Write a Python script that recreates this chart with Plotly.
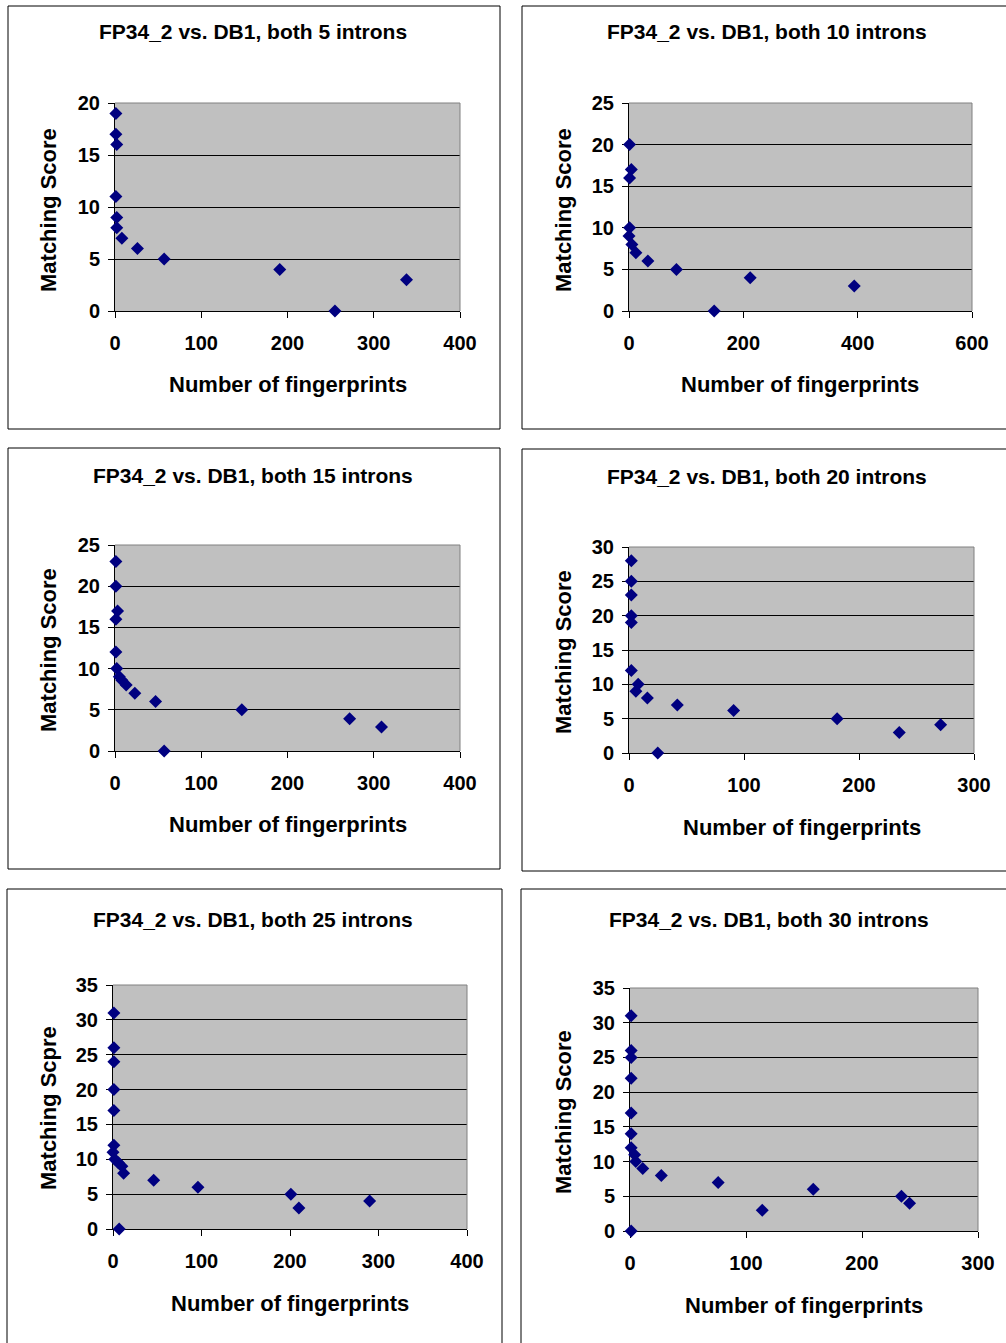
import plotly.graph_objects as go

W, H = 1006, 1343

# ---------------- data ----------------
titles = [
    "FP34_2 vs. DB1, both 5 introns",
    "FP34_2 vs. DB1, both 10 introns",
    "FP34_2 vs. DB1, both 15 introns",
    "FP34_2 vs. DB1, both 20 introns",
    "FP34_2 vs. DB1, both 25 introns",
    "FP34_2 vs. DB1, both 30 introns",
]
x_titles = ["Number of fingerprints"] * 6
y_titles = ["Matching Score", "Matching Score", "Matching Score",
            "Matching Score", "Matching Scpre", "Matching Score"]

fp5_x = [1, 1, 2, 1, 2, 2, 8, 26, 57, 191, 255, 338]
fp5_y = [19, 17, 16, 11, 9, 8, 7, 6, 5, 4, 0, 3]

fp10_x = [1, 4, 1, 1, 0, 5, 12, 33, 83, 149, 212, 394]
fp10_y = [20, 17, 16, 10, 9, 8, 7, 6, 5, 0, 4, 3]

fp15_x = [1, 1, 3, 1, 1, 2, 5, 8, 13, 23, 47, 57, 147, 272, 309]
fp15_y = [23, 20, 17, 16, 12, 10, 9, 8.6, 8, 7, 6, 0, 5, 3.9, 2.9]

fp20_x = [2, 2, 2, 2, 2, 2, 8, 6, 16, 42, 25, 91, 181, 235, 271]
fp20_y = [28, 25, 23, 20, 19, 12, 10, 9, 8, 7, 0, 6.2, 5, 3, 4.1]

fp25_x = [1, 1, 1, 1, 1, 1, 0, 2, 6, 10, 12, 46, 96, 201, 210, 290, 7]
fp25_y = [31, 26, 24, 20, 17, 12, 11, 10, 9.5, 9, 8, 7, 6, 5, 3, 4, 0]

fp30_x = [1, 1, 1, 1, 1, 1, 1, 4, 5, 11, 27, 76, 114, 158, 234, 241, 1]
fp30_y = [31, 26, 25, 22, 17, 14, 12, 11, 10, 9, 8, 7, 3, 6, 5, 4, 0]

xs = [fp5_x, fp10_x, fp15_x, fp20_x, fp25_x, fp30_x]
ys = [fp5_y, fp10_y, fp15_y, fp20_y, fp25_y, fp30_y]

x_max = [400, 600, 400, 300, 400, 300]
x_dtick = [100, 200, 100, 100, 100, 100]
y_max = [20, 25, 25, 30, 35, 35]
y_dtick = [5, 5, 5, 5, 5, 5]

# ---------------- layout geometry (pixels) ----------------
plot_boxes = [  # x0, x1, y0(top), y1(bottom)
    (115, 460, 103, 311),
    (629, 972, 103, 311),
    (115, 460, 545, 751),
    (629, 974, 547, 753),
    (113, 467, 985, 1229),
    (630, 978, 988, 1231),
]
frame_boxes = [
    (8, 500, 6, 429),
    (522, 1012, 6, 429),
    (8, 500, 448, 869),
    (522, 1012, 449, 871),
    (7, 502, 889, 1350),
    (521, 1012, 889, 1350),
]
title_pos = [(253, 32), (767, 32), (253, 475), (767, 476), (253, 919), (769, 919)]
xtitle_pos = [(288, 384), (800, 384), (288, 825), (802, 827), (290, 1303), (804, 1305)]
ytitle_pos = [(48, 210), (563, 210), (48, 650), (563, 652), (48, 1108), (563, 1112)]


def px(x):
    return x / W


def py(y):
    return 1 - y / H


FONT = "Liberation Sans, Arial, sans-serif"

fig = go.Figure()
layout = dict(
    width=W, height=H, margin=dict(l=0, r=0, t=0, b=0, pad=0, autoexpand=False),
    paper_bgcolor="white", plot_bgcolor="#C0C0C0",
    showlegend=False, shapes=[], annotations=[],
)

for i in range(6):
    k = "" if i == 0 else str(i + 1)
    fig.add_trace(go.Scatter(
        x=xs[i], y=ys[i], mode="markers",
        marker=dict(symbol="diamond", size=10, color="#000080", line=dict(width=0)),
        xaxis="x" + k, yaxis="y" + k, cliponaxis=False,
    ))
    x0, x1, y0, y1 = plot_boxes[i]
    layout["xaxis" + k] = dict(
        domain=[px(x0), px(x1)], anchor="y" + k, range=[0, x_max[i]],
        dtick=x_dtick[i], tick0=0, showgrid=False, zeroline=False,
        showline=True, linecolor="black", linewidth=1,
        ticks="outside", ticklen=6, tickcolor="black", tickwidth=1,
        tickfont=dict(family=FONT, size=20, color="black", weight="bold"),
        ticklabelstandoff=8, layer="below traces", fixedrange=True, automargin=False,
    )
    layout["yaxis" + k] = dict(
        domain=[py(y1), py(y0)], anchor="x" + k, range=[0, y_max[i]],
        dtick=y_dtick[i], tick0=0, showgrid=True, gridcolor="#000000", gridwidth=1,
        zeroline=False, showline=True, linecolor="black", linewidth=1,
        ticks="outside", ticklen=6, tickcolor="black", tickwidth=1,
        tickfont=dict(family=FONT, size=20, color="black", weight="bold"),
        ticklabelstandoff=4, layer="below traces", fixedrange=True, automargin=False,
    )
    # top & right border of plot area (gray)
    layout["shapes"].append(dict(type="line", xref="paper", yref="paper",
                                 x0=px(x0), x1=px(x1), y0=py(y0), y1=py(y0),
                                 line=dict(color="#808080", width=1), layer="above"))
    layout["shapes"].append(dict(type="line", xref="paper", yref="paper",
                                 x0=px(x1), x1=px(x1), y0=py(y0), y1=py(y1),
                                 line=dict(color="#808080", width=1), layer="above"))
    # chart frame
    fx0, fx1, fy0, fy1 = frame_boxes[i]
    layout["shapes"].append(dict(type="rect", xref="paper", yref="paper",
                                 x0=px(fx0), x1=px(fx1), y0=py(fy1), y1=py(fy0),
                                 line=dict(color="black", width=1), layer="below"))
    tx, ty = title_pos[i]
    layout["annotations"].append(dict(
        text=titles[i], xref="paper", yref="paper", x=px(tx), y=py(ty),
        xanchor="center", yanchor="middle", showarrow=False,
        font=dict(family=FONT, size=21, color="black", weight="bold")))
    ax, ay = xtitle_pos[i]
    layout["annotations"].append(dict(
        text=x_titles[i], xref="paper", yref="paper", x=px(ax), y=py(ay),
        xanchor="center", yanchor="middle", showarrow=False,
        font=dict(family=FONT, size=22, color="black", weight="bold")))
    bx, by = ytitle_pos[i]
    layout["annotations"].append(dict(
        text=y_titles[i], xref="paper", yref="paper", x=px(bx), y=py(by),
        xanchor="center", yanchor="middle", showarrow=False, textangle=-90,
        font=dict(family=FONT, size=22, color="black", weight="bold")))

fig.update_layout(**layout)
fig.write_html(
    "out.html",
    config={"displayModeBar": False, "staticPlot": True},
    post_script="document.body.style.margin='0';document.body.style.overflow='hidden';",
)
